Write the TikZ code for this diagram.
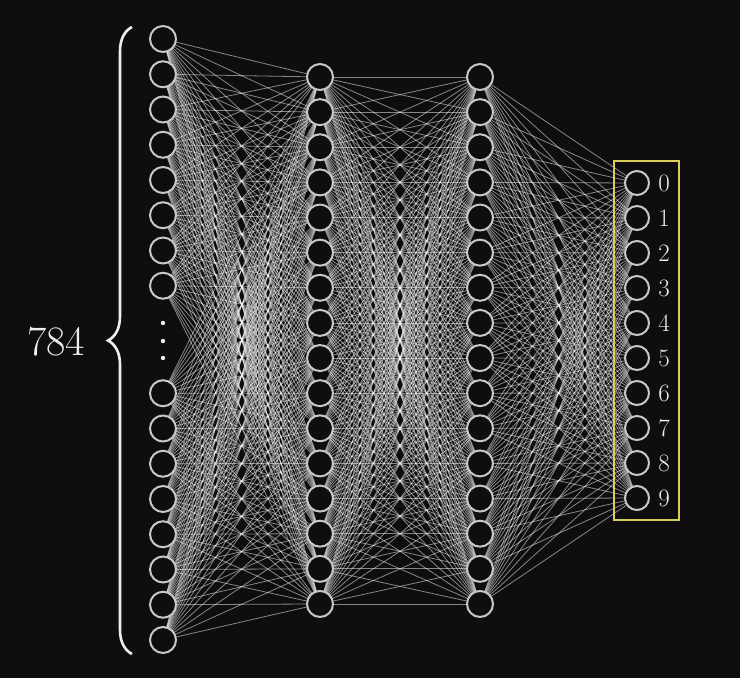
\documentclass[tikz,border=0pt]{standalone}
\usetikzlibrary{decorations.pathreplacing}
\pgfdeclarelayer{bg}\pgfdeclarelayer{edges}\pgfsetlayers{bg,edges,main}
\definecolor{bgc}{HTML}{0F0D10}
\definecolor{ring}{HTML}{C8C8C8}
\definecolor{boxy}{HTML}{D6CF5C}
\definecolor{txt}{HTML}{EEEEEE}
\begin{document}
\begin{tikzpicture}[x=1pt,y=-1pt,
  neuron/.style={circle,draw=ring,line width=2pt,fill=bgc,minimum size=26pt,inner sep=0pt},
  oneuron/.style={neuron,minimum size=24pt},
  wire/.style={draw=white,opacity=0.5,line width=0.8pt},
  lab/.style={text=txt,font=\fontsize{25}{30}\selectfont,inner sep=0pt},
  bigbrace/.style={draw=txt,line width=2.6pt,decorate,decoration={brace,amplitude=24pt}}]
\useasboundingbox (0,0) rectangle (740,678);
\begin{pgfonlayer}{bg}
  \fill[bgc] (0,0) rectangle (740,678);
\end{pgfonlayer}
% input layer
\foreach \k in {1,...,8} \node[neuron] (i\k) at (163,{39+35.25*(\k-1)}) {};
\foreach \k in {9,...,16} \node[neuron] (i\k) at (163,{393.25+35.25*(\k-9)}) {};
% hidden layers
\foreach \k in {1,...,16} {
  \node[neuron] (h\k) at (320,{77+35.13*(\k-1)}) {};
  \node[neuron] (g\k) at (480,{77+35.13*(\k-1)}) {};
}
% output layer
\foreach \k in {1,...,10} {
  \pgfmathtruncatemacro\d{\k-1}
  \node[oneuron] (o\k) at (637,{183+35*(\k-1)}) {};
  \node[lab] (l\k) at (664,{183+35*(\k-1)}) {\d};
}
% connections
\begin{pgfonlayer}{edges}
\foreach \a in {1,...,16} \foreach \b in {1,...,16} {
  \draw[wire] (i\a.center) -- (h\b.center);
  \draw[wire] (h\a.center) -- (g\b.center);
}
\foreach \a in {1,...,16} \foreach \b in {1,...,10}
  \draw[wire] (g\a.center) -- (o\b.center);
\end{pgfonlayer}
% dots
\foreach \y in {323,341,358} \fill[txt] (163,\y) circle (2.2pt);
% output box
\draw[boxy,line width=2pt] (614,161) rectangle (679,520);
% brace and count
\coordinate (bb) at (132,654);
\coordinate (bt) at (132,27);
\draw[bigbrace] (bb) -- (bt);
\node[text=txt,font=\fontsize{42}{50}\selectfont,inner sep=0pt] (n784) at (56,342) {784};
\end{tikzpicture}
\end{document}
